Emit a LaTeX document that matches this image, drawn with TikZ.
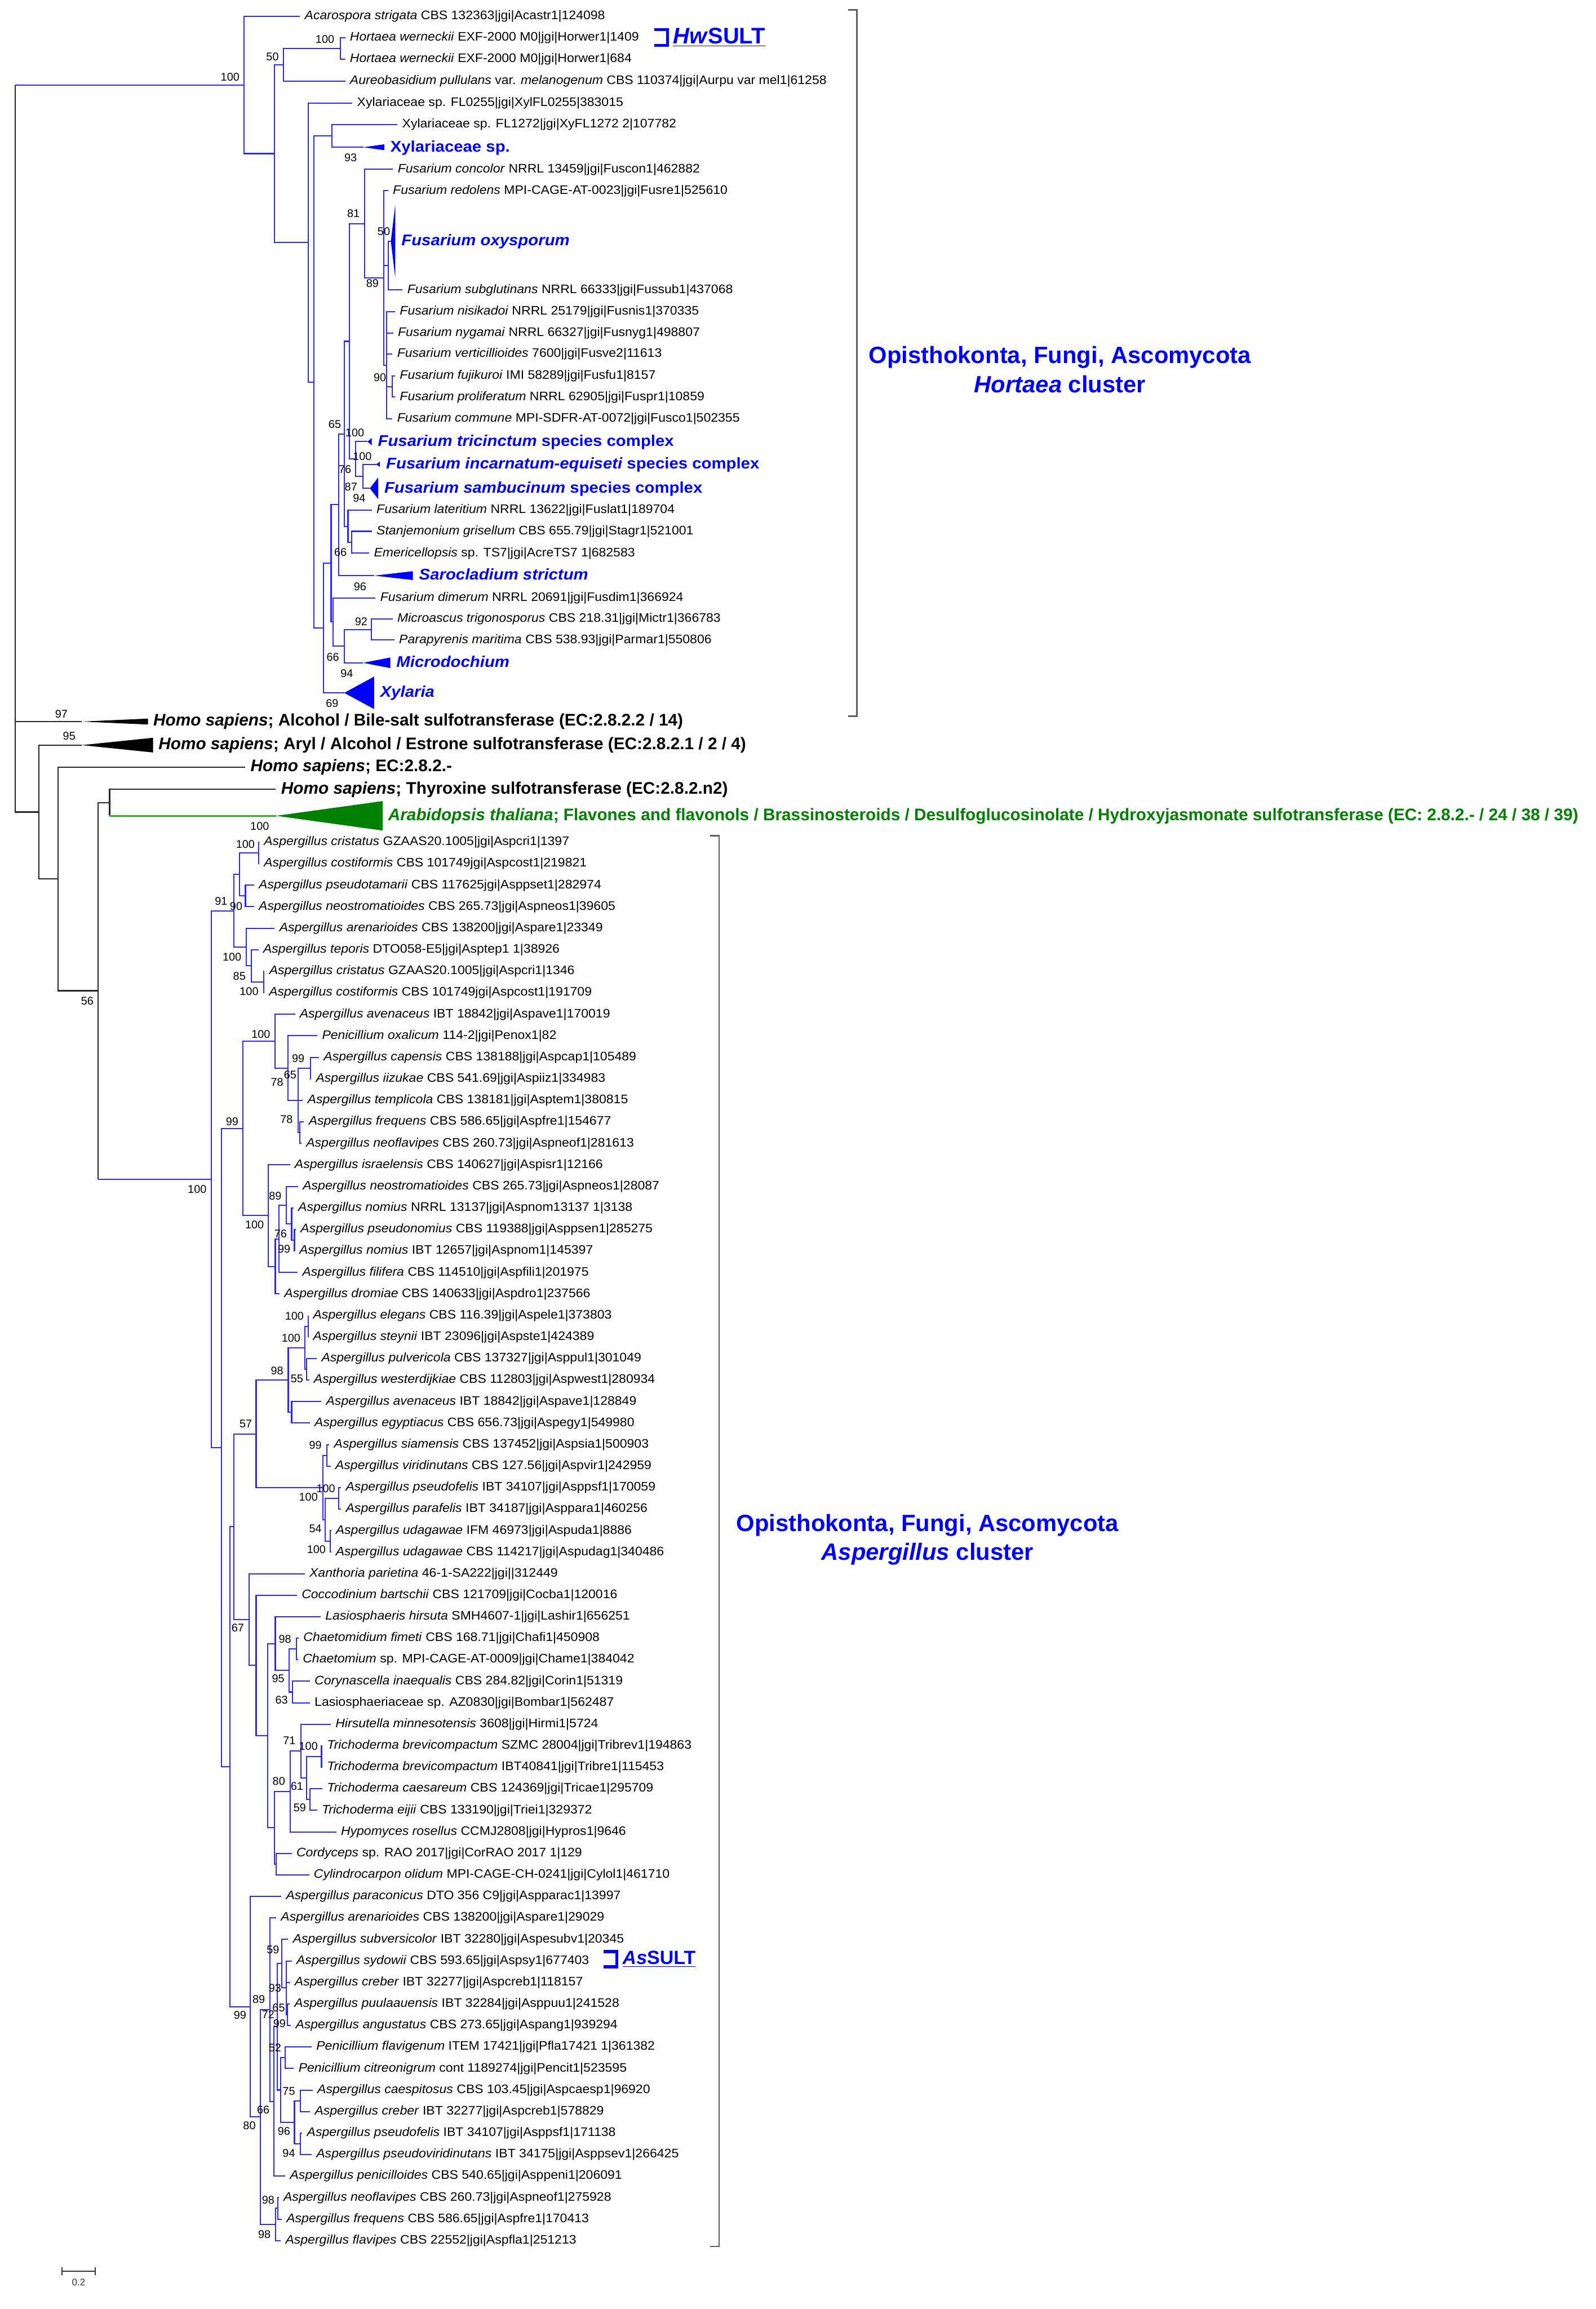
\documentclass[tikz,border=0pt]{standalone}
\usepackage{fontspec}
\setmainfont{Liberation Sans}
\newfontfamily\leaffont[FakeStretch=1.05]{Liberation Sans}
\newfontfamily\cladefont[FakeStretch=1.07]{Liberation Sans}
\definecolor{treeblue}{RGB}{40,40,255}
\definecolor{labblue}{RGB}{0,0,255}
\definecolor{atgreen}{RGB}{0,128,0}
\definecolor{brgray}{RGB}{95,95,95}
\tikzset{
  tb/.style={draw=treeblue,line width=0.8pt},
  tk/.style={draw=black!85,line width=0.9pt},
  tg/.style={draw=atgreen!75,line width=1.3pt},
  leaf/.style={anchor=west,inner xsep=3pt,inner ysep=0pt,text height=5.2pt,text depth=0.8pt,font=\leaffont\fontsize{8.4}{9}\selectfont},
  clade/.style={anchor=west,inner xsep=4pt,inner ysep=0pt,text height=6.6pt,text depth=0.6pt,text=labblue,font=\cladefont\fontsize{10.5}{11}\selectfont\bfseries\itshape},
  human/.style={anchor=west,inner xsep=3.5pt,inner ysep=0pt,text height=7pt,text depth=0.9pt,font=\fontsize{11.4}{12}\selectfont\bfseries},
  plant/.style={human,text=atgreen,font=\fontsize{11.4}{12}\selectfont\bfseries},
  bs/.style={inner sep=0pt,font=\fontsize{7.6}{8}\selectfont},
  clus/.style={align=center,text=labblue,font=\fontsize{16}{19.7}\selectfont\bfseries},
  brk/.style={draw=brgray,line width=1pt},
  sult/.style={draw=labblue,line width=2pt},
  sultlab/.style={anchor=west,inner sep=0pt,text=labblue,font=\bfseries}
}
\newcommand{\yb}[1]{571.9+(#1-1)*14.61}

\begin{document}
\begin{tikzpicture}[x=1pt,y=-1pt]
\useasboundingbox (0,0) rectangle (1084,1568);

% root and the human / plant enzymes
\coordinate (root) at (10.4,57.65);
\coordinate (k1) at (26.3,551.45);
\coordinate (k2) at (39.5,596.9);
\coordinate (k3) at (66.7,672.85);
\coordinate (k4) at (74.4,545);
\coordinate (hs1a) at (55.4,490);
\coordinate (hs2a) at (55.6,506);
\coordinate (at1a) at (187.6,554);
\node[human] (hs1) at (100.5,490) {\textit{Homo sapiens}; Alcohol / Bile-salt sulfotransferase (EC:2.8.2.2 / 14)};
\node[human] (hs2) at (104,506) {\textit{Homo sapiens}; Aryl / Alcohol / Estrone sulfotransferase (EC:2.8.2.1 / 2 / 4)};
\node[human] (hs3) at (166.5,521) {\textit{Homo sapiens}; EC:2.8.2.-};
\node[human] (hs4) at (187.3,536) {\textit{Homo sapiens}; Thyroxine sulfotransferase (EC:2.8.2.n2)};
\node[plant] (at1) at (260,554) {\textit{Arabidopsis thaliana}; Flavones and flavonols / Brassinosteroids / Desulfoglucosinolate / Hydroxyjasmonate sulfotransferase (EC: 2.8.2.- / 24 / 38 / 39)};

% Hortaea cluster: inner nodes
\coordinate (h0) at (165.7,57.65);
\coordinate (h1) at (186.3,104.3);
\coordinate (h2) at (192.6,44);
\coordinate (h3) at (231.1,32.9);
\coordinate (h4) at (209.4,164.65);
\coordinate (h5) at (213.2,259.4);
\coordinate (h6) at (225.5,92.25);
\coordinate (h7) at (219.7,426.55);
\coordinate (h8) at (224.9,382.6);
\coordinate (h9) at (230,342.75);
\coordinate (h10) at (226.1,422.4);
\coordinate (h11) at (233.8,294.6);
\coordinate (h12) at (237.5,231.8);
\coordinate (h13) at (236.4,357.4);
\coordinate (h14) at (247.6,151.9);
\coordinate (h15) at (241.5,311.7);
\coordinate (h16) at (260.7,188.8);
\coordinate (h17) at (263.8,180.35);
\coordinate (h18) at (262.5,248.1);
\coordinate (h19) at (266.6,262.45);
\coordinate (h20) at (246.6,323.45);
\coordinate (h21) at (238.9,368.25);
\coordinate (h22) at (233.8,438.8);
\coordinate (h23) at (252.2,427.45);
% collapsed clades: apex points
\coordinate (t7a) at (246.8,100);
\coordinate (t10a) at (265.5,163.8);
\coordinate (t18a) at (249.7,299.9);
\coordinate (t19a) at (255.6,315.3);
\coordinate (t20a) at (251.2,331.6);
\coordinate (t24a) at (254.3,390.9);
\coordinate (t28a) at (246.6,450.1);
\coordinate (t29a) at (233.8,470.5);

% Hortaea cluster: tips
\node[leaf] (t1) at (203.8,11) {\textit{Acarospora strigata} CBS 132363|jgi|Acastr1|124098};
\node[leaf] (t2) at (234.5,25.7) {\textit{Hortaea werneckii} EXF-2000 M0|jgi|Horwer1|1409};
\node[leaf] (t3) at (234.5,40.1) {\textit{Hortaea werneckii} EXF-2000 M0|jgi|Horwer1|684};
\node[leaf] (t4) at (234.5,55.1) {\textit{Aureobasidium pullulans} var. \textit{melanogenum} CBS 110374|jgi|Aurpu var mel1|61258};
\node[leaf] (t5) at (239.4,69.9) {Xylariaceae sp. FL0255|jgi|XylFL0255|383015};
\node[leaf] (t6) at (270,84.5) {Xylariaceae sp. FL1272|jgi|XyFL1272 2|107782};
\node[clade] (t7) at (261,100) {\upshape Xylariaceae sp.};
\node[leaf] (t8) at (267,115) {\textit{Fusarium concolor} NRRL 13459|jgi|Fuscon1|462882};
\node[leaf] (t9) at (263.7,129.5) {\textit{Fusarium redolens} MPI-CAGE-AT-0023|jgi|Fusre1|525610};
\node[clade] (t10) at (268.5,163.8) {Fusarium oxysporum};
\node[leaf] (t11) at (273.5,196.9) {\textit{Fusarium subglutinans} NRRL 66333|jgi|Fussub1|437068};
\node[leaf] (t12) at (268.4,211.7) {\textit{Fusarium nisikadoi} NRRL 25179|jgi|Fusnis1|370335};
\node[leaf] (t13) at (267.1,226.1) {\textit{Fusarium nygamai} NRRL 66327|jgi|Fusnyg1|498807};
\node[leaf] (t14) at (266.6,240.4) {\textit{Fusarium verticillioides} 7600|jgi|Fusve2|11613};
\node[leaf] (t15) at (268.4,255.3) {\textit{Fusarium fujikuroi} IMI 58289|jgi|Fusfu1|8157};
\node[leaf] (t16) at (268.4,269.6) {\textit{Fusarium proliferatum} NRRL 62905|jgi|Fuspr1|10859};
\node[leaf] (t17) at (266.6,284.5) {\textit{Fusarium commune} MPI-SDFR-AT-0072|jgi|Fusco1|502355};
\node[clade] (t18) at (252.5,299.9) {Fusarium tricinctum {\upshape species complex}};
\node[clade] (t19) at (258.1,315.3) {Fusarium incarnatum-equiseti {\upshape species complex}};
\node[clade] (t20) at (256.9,331.6) {Fusarium sambucinum {\upshape species complex}};
\node[leaf] (t21) at (252.6,346.5) {\textit{Fusarium lateritium} NRRL 13622|jgi|Fuslat1|189704};
\node[leaf] (t22) at (252.6,360.8) {\textit{Stanjemonium grisellum} CBS 655.79|jgi|Stagr1|521001};
\node[leaf] (t23) at (250.8,375.7) {\textit{Emericellopsis} sp. TS7|jgi|AcreTS7 1|682583};
\node[clade] (t24) at (280.5,390.9) {Sarocladium strictum};
\node[leaf] (t25) at (255.1,406) {\textit{Fusarium dimerum} NRRL 20691|jgi|Fusdim1|366924};
\node[leaf] (t26) at (266.7,420.3) {\textit{Microascus trigonosporus} CBS 218.31|jgi|Mictr1|366783};
\node[leaf] (t27) at (267.9,434.6) {\textit{Parapyrenis maritima} CBS 538.93|jgi|Parmar1|550806};
\node[clade] (t28) at (265.1,450.1) {Microdochium};
\node[clade] (t29) at (254.1,470.5) {Xylaria};

% Aspergillus cluster: inner nodes
\coordinate (a0) at (143.4,800.7);
\coordinate (a1) at (159,618.45);
\coordinate (a2) at (162.6,593.8);
\coordinate (a3) at (175.8,579.2);
\coordinate (a4) at (166.7,608.4);
\coordinate (a5) at (167.3,643.1);
\coordinate (a6) at (170.9,655.9);
\coordinate (a7) at (179.1,666.9);
\coordinate (a8) at (150.5,983);
\coordinate (a9) at (165,766.3);
\coordinate (a10) at (186.9,707.05);
\coordinate (a11) at (195.7,725.3);
\coordinate (a12) at (202.4,747.2);
\coordinate (a13) at (210.8,725.3);
\coordinate (a14) at (203.6,769.1);
\coordinate (a15) at (182.3,825.5);
\coordinate (a16) at (187,860);
\coordinate (a17) at (189.5,841.3);
\coordinate (a18) at (194.6,818.5);
\coordinate (a19) at (198.1,831.25);
\coordinate (a20) at (200,842.2);
\coordinate (a21) at (156.3,1199.7);
\coordinate (a22) at (158.7,1036.7);
\coordinate (a23) at (174,973.7);
\coordinate (a24) at (195.8,937.15);
\coordinate (a25) at (207,915.2);
\coordinate (a26) at (209.5,900.6);
\coordinate (a27) at (208.3,929.8);
\coordinate (a28) at (198.1,959.1);
\coordinate (a29) at (219.4,1010.2);
\coordinate (a30) at (222,988.3);
\coordinate (a31) at (221,1032.1);
\coordinate (a32) at (230.2,1017.5);
\coordinate (a33) at (224.3,1046.7);
\coordinate (a34) at (169.3,1099.75);
\coordinate (a35) at (174,1130.9);
\coordinate (a36) at (181.8,1178.65);
\coordinate (a37) at (187,1116.1);
\coordinate (a38) at (196.5,1134.4);
\coordinate (a39) at (201.2,1119.8);
\coordinate (a40) at (198.8,1149);
\coordinate (a41) at (186.6,1241.2);
\coordinate (a42) at (197.2,1216.5);
\coordinate (a43) at (204.3,1189.15);
\coordinate (a44) at (208.3,1207.4);
\coordinate (a45) at (218.4,1192.8);
\coordinate (a46) at (210.7,1222);
\coordinate (a47) at (187.7,1265.85);
\coordinate (a48) at (170.1,1362.7);
\coordinate (a49) at (177,1437.6);
\coordinate (a50) at (183.4,1364.7);
\coordinate (a51) at (186,1427);
\coordinate (a52) at (188.5,1376.3);
\coordinate (a53) at (191.5,1333.4);
\coordinate (a54) at (194.6,1349.85);
\coordinate (a55) at (195.3,1368.1);
\coordinate (a56) at (190.6,1419.25);
\coordinate (a57) at (193.7,1397.3);
\coordinate (a58) at (200,1441.2);
\coordinate (a59) at (203.9,1426.55);
\coordinate (a60) at (203.9,1455.8);
\coordinate (a61) at (187.3,1510.55);
\coordinate (a62) at (188.6,1499.6);

% Aspergillus cluster: tips
\node[leaf] (b1) at (176.1,{\yb{1}}) {\textit{Aspergillus cristatus} GZAAS20.1005|jgi|Aspcri1|1397};
\node[leaf] (b2) at (176.1,{\yb{2}}) {\textit{Aspergillus costiformis} CBS 101749jgi|Aspcost1|219821};
\node[leaf] (b3) at (172.6,{\yb{3}}) {\textit{Aspergillus pseudotamarii} CBS 117625jgi|Asppset1|282974};
\node[leaf] (b4) at (172.6,{\yb{4}}) {\textit{Aspergillus neostromatioides} CBS 265.73|jgi|Aspneos1|39605};
\node[leaf] (b5) at (186.6,{\yb{5}}) {\textit{Aspergillus arenarioides} CBS 138200|jgi|Aspare1|23349};
\node[leaf] (b6) at (175.6,{\yb{6}}) {\textit{Aspergillus teporis} DTO058-E5|jgi|Asptep1 1|38926};
\node[leaf] (b7) at (179.7,{\yb{7}}) {\textit{Aspergillus cristatus} GZAAS20.1005|jgi|Aspcri1|1346};
\node[leaf] (b8) at (179.5,{\yb{8}}) {\textit{Aspergillus costiformis} CBS 101749jgi|Aspcost1|191709};
\node[leaf] (b9) at (200.4,{\yb{9}}) {\textit{Aspergillus avenaceus} IBT 18842|jgi|Aspave1|170019};
\node[leaf] (b10) at (215.6,{\yb{10}}) {\textit{Penicillium oxalicum} 114-2|jgi|Penox1|82};
\node[leaf] (b11) at (216.7,{\yb{11}}) {\textit{Aspergillus capensis} CBS 138188|jgi|Aspcap1|105489};
\node[leaf] (b12) at (211.4,{\yb{12}}) {\textit{Aspergillus iizukae} CBS 541.69|jgi|Aspiiz1|334983};
\node[leaf] (b13) at (205.7,{\yb{13}}) {\textit{Aspergillus templicola} CBS 138181|jgi|Asptem1|380815};
\node[leaf] (b14) at (206.5,{\yb{14}}) {\textit{Aspergillus frequens} CBS 586.65|jgi|Aspfre1|154677};
\node[leaf] (b15) at (204.8,{\yb{15}}) {\textit{Aspergillus neoflavipes} CBS 260.73|jgi|Aspneof1|281613};
\node[leaf] (b16) at (197,{\yb{16}}) {\textit{Aspergillus israelensis} CBS 140627|jgi|Aspisr1|12166};
\node[leaf] (b17) at (202.5,{\yb{17}}) {\textit{Aspergillus neostromatioides} CBS 265.73|jgi|Aspneos1|28087};
\node[leaf] (b18) at (199.4,{\yb{18}}) {\textit{Aspergillus nomius} NRRL 13137|jgi|Aspnom13137 1|3138};
\node[leaf] (b19) at (201,{\yb{19}}) {\textit{Aspergillus pseudonomius} CBS 119388|jgi|Asppsen1|285275};
\node[leaf] (b20) at (200.1,{\yb{20}}) {\textit{Aspergillus nomius} IBT 12657|jgi|Aspnom1|145397};
\node[leaf] (b21) at (202.2,{\yb{21}}) {\textit{Aspergillus filifera} CBS 114510|jgi|Aspfili1|201975};
\node[leaf] (b22) at (189.9,{\yb{22}}) {\textit{Aspergillus dromiae} CBS 140633|jgi|Aspdro1|237566};
\node[leaf] (b23) at (209.5,{\yb{23}}) {\textit{Aspergillus elegans} CBS 116.39|jgi|Aspele1|373803};
\node[leaf] (b24) at (209.5,{\yb{24}}) {\textit{Aspergillus steynii} IBT 23096|jgi|Aspste1|424389};
\node[leaf] (b25) at (215.2,{\yb{25}}) {\textit{Aspergillus pulvericola} CBS 137327|jgi|Asppul1|301049};
\node[leaf] (b26) at (210,{\yb{26}}) {\textit{Aspergillus westerdijkiae} CBS 112803|jgi|Aspwest1|280934};
\node[leaf] (b27) at (218.3,{\yb{27}}) {\textit{Aspergillus avenaceus} IBT 18842|jgi|Aspave1|128849};
\node[leaf] (b28) at (210.5,{\yb{28}}) {\textit{Aspergillus egyptiacus} CBS 656.73|jgi|Aspegy1|549980};
\node[leaf] (b29) at (223.7,{\yb{29}}) {\textit{Aspergillus siamensis} CBS 137452|jgi|Aspsia1|500903};
\node[leaf] (b30) at (224.6,{\yb{30}}) {\textit{Aspergillus viridinutans} CBS 127.56|jgi|Aspvir1|242959};
\node[leaf] (b31) at (231.7,{\yb{31}}) {\textit{Aspergillus pseudofelis} IBT 34107|jgi|Asppsf1|170059};
\node[leaf] (b32) at (231.7,{\yb{32}}) {\textit{Aspergillus parafelis} IBT 34187|jgi|Asppara1|460256};
\node[leaf] (b33) at (224.9,{\yb{33}}) {\textit{Aspergillus udagawae} IFM 46973|jgi|Aspuda1|8886};
\node[leaf] (b34) at (224.9,{\yb{34}}) {\textit{Aspergillus udagawae} CBS 114217|jgi|Aspudag1|340486};
\node[leaf] (b35) at (207,{\yb{35}}) {\textit{Xanthoria parietina} 46-1-SA222|jgi||312449};
\node[leaf] (b36) at (201.7,{\yb{36}}) {\textit{Coccodinium bartschii} CBS 121709|jgi|Cocba1|120016};
\node[leaf] (b37) at (217.8,{\yb{37}}) {\textit{Lasiosphaeris hirsuta} SMH4607-1|jgi|Lashir1|656251};
\node[leaf] (b38) at (202.9,{\yb{38}}) {\textit{Chaetomidium fimeti} CBS 168.71|jgi|Chafi1|450908};
\node[leaf] (b39) at (202.5,{\yb{39}}) {\textit{Chaetomium} sp. MPI-CAGE-AT-0009|jgi|Chame1|384042};
\node[leaf] (b40) at (210.5,{\yb{40}}) {\textit{Corynascella inaequalis} CBS 284.82|jgi|Corin1|51319};
\node[leaf] (b41) at (210.5,{\yb{41}}) {Lasiosphaeriaceae sp. AZ0830|jgi|Bombar1|562487};
\node[leaf] (b42) at (224.7,{\yb{42}}) {\textit{Hirsutella minnesotensis} 3608|jgi|Hirmi1|5724};
\node[leaf] (b43) at (219,{\yb{43}}) {\textit{Trichoderma brevicompactum} SZMC 28004|jgi|Tribrev1|194863};
\node[leaf] (b44) at (219,{\yb{44}}) {\textit{Trichoderma brevicompactum} IBT40841|jgi|Tribre1|115453};
\node[leaf] (b45) at (219,{\yb{45}}) {\textit{Trichoderma caesareum} CBS 124369|jgi|Tricae1|295709};
\node[leaf] (b46) at (215.4,{\yb{46}}) {\textit{Trichoderma eijii} CBS 133190|jgi|Triei1|329372};
\node[leaf] (b47) at (228.4,{\yb{47}}) {\textit{Hypomyces rosellus} CCMJ2808|jgi|Hypros1|9646};
\node[leaf] (b48) at (198.2,{\yb{48}}) {\textit{Cordyceps} sp. RAO 2017|jgi|CorRAO 2017 1|129};
\node[leaf] (b49) at (210,{\yb{49}}) {\textit{Cylindrocarpon olidum} MPI-CAGE-CH-0241|jgi|Cylol1|461710};
\node[leaf] (b50) at (191.1,{\yb{50}}) {\textit{Aspergillus paraconicus} DTO 356 C9|jgi|Aspparac1|13997};
\node[leaf] (b51) at (187.6,{\yb{51}}) {\textit{Aspergillus arenarioides} CBS 138200|jgi|Aspare1|29029};
\node[leaf] (b52) at (195.8,{\yb{52}}) {\textit{Aspergillus subversicolor} IBT 32280|jgi|Aspesubv1|20345};
\node[leaf] (b53) at (198.2,{\yb{53}}) {\textit{Aspergillus sydowii} CBS 593.65|jgi|Aspsy1|677403};
\node[leaf] (b54) at (197,{\yb{54}}) {\textit{Aspergillus creber} IBT 32277|jgi|Aspcreb1|118157};
\node[leaf] (b55) at (196.8,{\yb{55}}) {\textit{Aspergillus puulaauensis} IBT 32284|jgi|Asppuu1|241528};
\node[leaf] (b56) at (197.6,{\yb{56}}) {\textit{Aspergillus angustatus} CBS 273.65|jgi|Aspang1|939294};
\node[leaf] (b57) at (211.7,{\yb{57}}) {\textit{Penicillium flavigenum} ITEM 17421|jgi|Pfla17421 1|361382};
\node[leaf] (b58) at (199.6,{\yb{58}}) {\textit{Penicillium citreonigrum} cont 1189274|jgi|Pencit1|523595};
\node[leaf] (b59) at (212.4,{\yb{59}}) {\textit{Aspergillus caespitosus} CBS 103.45|jgi|Aspcaesp1|96920};
\node[leaf] (b60) at (210.6,{\yb{60}}) {\textit{Aspergillus creber} IBT 32277|jgi|Aspcreb1|578829};
\node[leaf] (b61) at (205.3,{\yb{61}}) {\textit{Aspergillus pseudofelis} IBT 34107|jgi|Asppsf1|171138};
\node[leaf] (b62) at (211.7,{\yb{62}}) {\textit{Aspergillus pseudoviridinutans} IBT 34175|jgi|Asppsev1|266425};
\node[leaf] (b63) at (193.8,{\yb{63}}) {\textit{Aspergillus penicilloides} CBS 540.65|jgi|Asppeni1|206091};
\node[leaf] (b64) at (189.4,{\yb{64}}) {\textit{Aspergillus neoflavipes} CBS 260.73|jgi|Aspneof1|275928};
\node[leaf] (b65) at (191.4,{\yb{65}}) {\textit{Aspergillus frequens} CBS 586.65|jgi|Aspfre1|170413};
\node[leaf] (b66) at (190.7,{\yb{66}}) {\textit{Aspergillus flavipes} CBS 22552|jgi|Aspfla1|251213};

% branches
\draw[tk] (root) |- (hs1a);
\draw[tk] (root) |- (k1);
\draw[tk] (k1) |- (hs2a);
\draw[tk] (k1) |- (k2);
\draw[tk] (k2) |- (hs3);
\draw[tk] (k2) |- (k3);
\draw[tk] (k3) |- (k4);
\draw[tk] (k4) |- (hs4);
\draw[tk] (k4) -- (k4 |- at1a);
\draw[tg] (k4 |- at1a) -- (at1a);
\draw[tk] (k3) -- (k3 |- a0);
\draw[tb] (k3 |- a0) -- (a0);
\draw[tb] (root) -- (h0);
\foreach \p/\c in {h0/t1,h0/h1,h1/h2,h2/h3,h3/t2,h3/t3,h2/t4,h1/h4,h4/t5,h4/h5,h5/h6,h6/t6,h6/t7a,
  h5/h7,h7/h8,h7/t29a,h8/h9,h8/h10,h9/h11,h9/t24a,h11/h12,h11/h13,h12/h14,h12/h15,h14/t8,h14/h16,
  h16/t9,h16/h17,h16/h18,h17/t10a,h17/t11,h18/t12,h18/t13,h18/t14,h18/h19,h18/t17,h19/t15,h19/t16,
  h15/t18a,h15/h20,h20/t19a,h20/t20a,h13/t21,h13/h21,h21/t22,h21/t23,h10/t25,h10/h22,h22/h23,
  h22/t28a,h23/t26,h23/t27}
  \draw[tb] (\p) |- (\c);
\foreach \p/\c in {a0/a1,a0/a8,a1/a2,a1/a5,a2/a3,a2/a4,a3/b1,a3/b2,a4/b3,a4/b4,a5/b5,a5/a6,a6/b6,
  a6/a7,a7/b7,a7/b8,a8/a9,a8/a21,a9/a10,a9/a15,a10/b9,a10/a11,a11/b10,a11/a12,a12/a13,a12/b13,
  a12/a14,a13/b11,a13/b12,a14/b14,a14/b15,a15/b16,a15/a16,a16/a17,a16/b22,a17/a18,a17/b21,
  a18/b17,a18/a19,a19/b18,a19/a20,a20/b19,a20/b20,a21/a22,a21/a48,a22/a23,a22/a34,a23/a24,
  a23/a29,a24/a25,a24/a28,a25/a26,a25/a27,a26/b23,a26/b24,a27/b25,a27/b26,a28/b27,a28/b28,
  a29/a30,a29/a31,a30/b29,a30/b30,a31/a32,a31/a33,a32/b31,a32/b32,a33/b33,a33/b34,a34/b35,
  a34/a35,a35/b36,a35/a36,a36/a37,a36/a41,a37/b37,a37/a38,a38/a39,a38/a40,a39/b38,a39/b39,
  a40/b40,a40/b41,a41/a42,a41/a47,a42/a43,a42/b47,a43/b42,a43/a44,a44/a45,a44/a46,a45/b43,
  a45/b44,a46/b45,a46/b46,a47/b48,a47/b49,a48/b50,a48/a49,a49/a50,a49/a61,a50/b51,a50/a51,
  a51/a52,a51/b63,a52/a53,a52/a56,a53/b52,a53/a54,a54/b53,a54/b54,a54/a55,a55/b55,a55/b56,
  a56/a57,a56/a58,a57/b57,a57/b58,a58/a59,a58/a60,a59/b59,a59/b60,a60/b61,a60/b62,a61/a62,
  a61/b66,a62/b64,a62/b65}
  \draw[tb] (\p) |- (\c);

% collapsed clades
\fill[black] (hs1a) -- ([yshift=2pt]hs1.west) -- ([yshift=-2pt]hs1.west) -- cycle;
\fill[black] (hs2a) -- ([yshift=5pt]hs2.west) -- ([yshift=-5pt]hs2.west) -- cycle;
\fill[atgreen] (at1a) -- ([yshift=10pt]at1.west) -- ([yshift=-10pt]at1.west) -- cycle;
\fill[labblue] (t7a) -- ([yshift=2pt]t7.west) -- ([yshift=-2pt]t7.west) -- cycle;
\fill[labblue] (t10a) -- ([yshift=25pt]t10.west) -- ([yshift=-25pt]t10.west) -- cycle;
\fill[labblue] (t18a) -- ([yshift=2.5pt]t18.west) -- ([yshift=-2.5pt]t18.west) -- cycle;
\fill[labblue] (t19a) -- ([yshift=1.8pt]t19.west) -- ([yshift=-1.8pt]t19.west) -- cycle;
\fill[labblue] (t20a) -- ([yshift=7.3pt]t20.west) -- ([yshift=-7.3pt]t20.west) -- cycle;
\fill[labblue] (t24a) -- ([yshift=3pt]t24.west) -- ([yshift=-3pt]t24.west) -- cycle;
\fill[labblue] (t28a) -- ([yshift=3.6pt]t28.west) -- ([yshift=-3.6pt]t28.west) -- cycle;
\fill[labblue] (t29a) -- ([yshift=11pt]t29.west) -- ([yshift=-11pt]t29.west) -- cycle;

% bootstrap values
\foreach \x/\y/\v [count=\i] in {156.3/52.3/100,185.1/38.5/50,220.7/26.8/100,238.2/107.1/93,
  240.1/145/81,260.7/157.2/50,253/192.5/89,258.1/256.4/90,227.4/288.3/65,241/293.8/100,
  246.1/309.8/100,234.3/318.6/76,238.4/330.5/87,244/338.2/94,231.3/375.1/66,244.6/398.3/96,
  245.3/422/92,226.1/446.2/66,235.6/457.2/94,225.6/477.6/69,41.7/484.7/97,47/500/95,
  176.4/561.1/100,59.3/679.6/56,166.7/573.5/100,150.2/612.1/91,160.4/615.5/90,157.6/650/100,
  162.6/662.8/85,169.2/673.4/100,177.2/702.4/100,202.6/718.9/99,197.1/729.9/65,188.2/734.7/78,
  157.7/761.5/99,194.6/760/78,133.9/807.5/100,187/812.1/89,172.9/831.9/100,190.6/837.8/76,
  193/848.2/99,200/893.7/100,197.7/908.8/100,188.2/930.9/98,201.7/936.4/55,167/966.9/57,
  214.2/981.4/99,221.3/1011/100,209.5/1016.5/100,214.2/1037.9/54,214.9/1052.3/100,
  161.5/1105.4/67,193.6/1113/98,189/1139.8/95,191.3/1154.3/63,196.5/1182/71,209.5/1185.8/100,
  189.4/1209.5/80,201.7/1213/61,203.6/1227.4/59,185.4/1323.9/59,186.8/1350/93,175.8/1357.5/89,
  189.3/1363.3/65,182.2/1367.9/72,189.8/1374.1/99,163/1368.5/99,186.8/1390.6/52,
  196.2/1420.2/75,178.8/1432.6/66,169.4/1443.6/80,192.9/1447.1/96,196.2/1462.2/94,
  182.2/1493.9/98,179.6/1517.4/98}
  \node[bs] (bs\i) at (\x,\y) {\v};

% cluster brackets and titles
\draw[brk] (576,6.8) -- (582,6.8) -- (582,486.3) -- (576,486.3);
\node[clus] (hcl) at (720,251) {Opisthokonta, Fungi, Ascomycota\\\textit{Hortaea} cluster};
\draw[brk] (482.3,567.5) -- (488.4,567.5) -- (488.4,1525.5) -- (482.3,1525.5);
\node[clus] (acl) at (630,1045.6) {Opisthokonta, Fungi, Ascomycota\\\textit{Aspergillus} cluster};

% the two studied enzymes
\draw[sult] (444.3,20.1) -- (453.3,20.1) -- (453.3,30.9) -- (444.3,30.9);
\node[sultlab,font=\fontsize{15.3}{16}\selectfont\bfseries] (hw) at (457,25.5) {\underline{\textit{Hw}SULT}};
\draw[sult] (410,1325.3) -- (418.9,1325.3) -- (418.9,1335.6) -- (410,1335.6);
\node[sultlab,font=\fontsize{13}{14}\selectfont\bfseries] (as) at (422.7,1330.5) {\underline{\textit{As}SULT}};

% scale bar
\coordinate (sc1) at (42.2,1542.4);
\coordinate (sc2) at (64.6,1542.4);
\draw[draw=black!80,line width=0.8pt] (sc1) -- (sc2);
\draw[draw=black!80,line width=0.8pt] ([yshift=2.8pt]sc1) -- ([yshift=-2.8pt]sc1);
\draw[draw=black!80,line width=0.8pt] ([yshift=2.8pt]sc2) -- ([yshift=-2.8pt]sc2);
\node[inner sep=0pt,font=\fontsize{6.5}{7}\selectfont,text=black!80] (sbl) at (53.4,1549.7) {0.2};
\end{tikzpicture}
\end{document}
